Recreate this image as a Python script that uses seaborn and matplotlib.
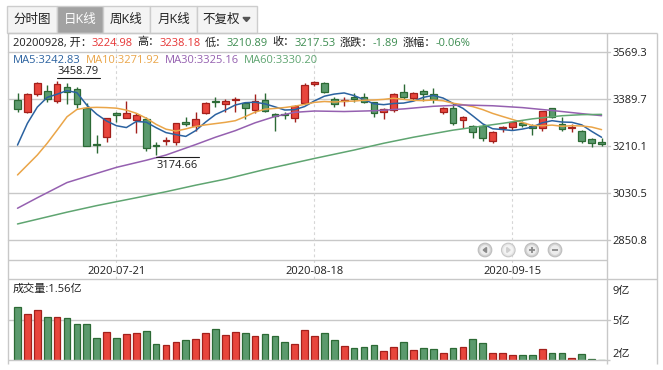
import numpy as np
import pandas as pd
import matplotlib
matplotlib.use("Agg")
import matplotlib.pyplot as plt
import matplotlib.transforms as mtransforms
from matplotlib.patches import Rectangle, Circle, Polygon
from matplotlib.ticker import FixedLocator, NullLocator
import seaborn as sns

# ---------------- data ----------------
day_idx = list(range(60))
opens = [3385.0, 3340.5, 3406.6, 3420.6, 3382.4, 3435.8, 3425.7, 3355.7, 3217.1, 3245.1,
         3334.1, 3317.6, 3308.7, 3311.2, 3213.3, 3228.5, 3223.4, 3302.3, 3285.8, 3336.6,
         3381.2, 3368.4, 3383.7, 3372.2, 3346.8, 3383.7, 3331.6, 3331.6, 3317.6, 3374.8,
         3444.7, 3448.6, 3387.5, 3379.9, 3395.1, 3395.1, 3376.1, 3337.9, 3346.8, 3416.8,
         3393.9, 3420.6, 3406.6, 3340.5, 3353.2, 3307.4, 3285.8, 3285.8, 3228.5, 3278.1,
         3283.2, 3298.5, 3285.8, 3276.9, 3353.2, 3293.4, 3279.4, 3266.7, 3236.2, 3224.98]
highs = [3410.4, 3410.4, 3453.0, 3442.2, 3458.79, 3448.6, 3433.3, 3374.8, 3251.4, 3316.0,
         3340.5, 3382.4, 3334.1, 3318.8, 3226.0, 3245.1, 3298.5, 3318.8, 3340.5, 3378.6,
         3395.1, 3387.5, 3395.1, 3374.8, 3406.6, 3413.0, 3336.6, 3340.5, 3365.9, 3451.1,
         3456.0, 3455.0, 3397.7, 3395.1, 3410.4, 3410.4, 3378.6, 3355.7, 3410.4, 3444.7,
         3416.8, 3425.7, 3429.5, 3359.5, 3372.2, 3323.9, 3289.6, 3293.4, 3266.7, 3285.8,
         3302.3, 3304.8, 3292.1, 3344.0, 3355.7, 3321.4, 3292.1, 3269.2, 3241.3, 3238.18]
lows = [3340.5, 3334.1, 3400.2, 3378.6, 3374.8, 3368.4, 3353.2, 3208.0, 3181.5, 3223.4,
        3302.3, 3315.0, 3260.3, 3191.6, 3174.66, 3212.0, 3213.3, 3285.8, 3266.7, 3331.6,
        3359.5, 3340.5, 3337.9, 3311.2, 3334.1, 3337.9, 3266.7, 3311.2, 3302.3, 3372.2,
        3438.4, 3410.4, 3357.0, 3362.1, 3378.6, 3372.2, 3321.4, 3312.5, 3340.5, 3390.0,
        3385.0, 3382.4, 3374.8, 3330.3, 3289.6, 3276.9, 3238.7, 3229.8, 3222.2, 3264.1,
        3270.5, 3283.2, 3251.4, 3268.0, 3315.0, 3268.0, 3264.1, 3222.2, 3206.9, 3210.89]
closes = [3349.4, 3406.6, 3448.0, 3387.5, 3444.7, 3416.8, 3368.4, 3210.7, 3213.3, 3315.0,
          3326.5, 3334.1, 3326.5, 3200.5, 3209.4, 3232.4, 3295.9, 3292.1, 3311.2, 3372.2,
          3376.1, 3381.2, 3388.8, 3355.7, 3381.2, 3344.3, 3325.2, 3327.7, 3362.1, 3440.9,
          3452.4, 3414.2, 3368.4, 3383.7, 3390.1, 3376.1, 3334.1, 3351.9, 3406.6, 3397.7,
          3413.0, 3406.6, 3388.8, 3355.7, 3295.9, 3318.8, 3261.6, 3238.7, 3261.6, 3280.7,
          3299.8, 3289.6, 3276.9, 3343.0, 3321.4, 3274.3, 3283.2, 3228.5, 3219.42, 3217.53]
volumes = [6.65, 5.70, 6.18, 5.34, 5.34, 5.23, 4.56, 4.56, 3.19, 3.75,
           3.19, 3.56, 3.65, 3.85, 2.68, 2.60, 2.84, 3.02, 3.10, 3.65,
           4.05, 3.47, 3.75, 3.65, 3.37, 3.56, 3.37, 2.84, 2.68, 3.95,
           3.37, 3.65, 3.04, 2.54, 2.36, 2.44, 2.60, 2.16, 2.44, 2.84,
           2.21, 2.36, 2.28, 2.01, 2.36, 2.44, 3.10, 2.79, 2.01, 2.01,
           1.85, 1.85, 1.85, 2.28, 2.01, 2.01, 1.66, 1.92, 1.59, 1.56]  # 亿
ma5 = [3213, 3296, 3358, 3395, 3407.2, 3420.7, 3413.1, 3365.6, 3330.8, 3304.8,
       3286.8, 3279.9, 3303.1, 3300.5, 3279.4, 3260.6, 3252.9, 3246.1, 3268.2, 3300.8,
       3329.5, 3346.6, 3365.9, 3374.8, 3376.6, 3370.2, 3359.0, 3346.8, 3348.1, 3360.0,
       3381.7, 3399.5, 3407.6, 3411.9, 3401.8, 3386.5, 3370.5, 3367.2, 3371.8, 3373.3,
       3380.7, 3395.2, 3402.5, 3392.4, 3372.0, 3353.2, 3324.2, 3294.1, 3275.3, 3272.3,
       3268.5, 3274.1, 3281.7, 3298.0, 3306.1, 3301.0, 3299.8, 3290.1, 3265.4, 3242.83]
ma10 = [3099, 3137, 3175, 3220, 3270, 3321, 3349, 3355.7, 3357, 3356.0,
        3353.8, 3346.5, 3334.4, 3315.7, 3292.1, 3273.7, 3266.4, 3274.6, 3284.4, 3290.1,
        3295.0, 3299.8, 3306.0, 3321.5, 3338.7, 3349.9, 3352.8, 3356.4, 3361.5, 3368.3,
        3376.0, 3379.3, 3377.2, 3380.0, 3380.9, 3384.1, 3385.0, 3387.4, 3391.8, 3387.5,
        3383.6, 3382.8, 3384.9, 3382.1, 3372.6, 3366.9, 3359.7, 3348.3, 3333.8, 3322.1,
        3310.8, 3299.1, 3287.9, 3286.7, 3289.2, 3284.8, 3286.9, 3285.9, 3281.7, 3271.92]
ma30_idx = [0, 2, 5, 8, 10, 13, 15, 18, 20, 22, 24, 26, 28, 30, 33, 36, 39, 42, 45, 48, 51, 54, 57, 59]
ma30 = [2972, 3012, 3070, 3105, 3128, 3155, 3175, 3215, 3243, 3268, 3298, 3322, 3338, 3343,
        3341, 3344, 3351, 3361, 3366, 3363, 3356, 3345, 3333, 3325.16]
ma60_idx = [0, 2, 5, 8, 12, 15, 18, 21, 25, 30, 34, 37, 40, 44, 49, 52, 55, 57, 59]
ma60 = [2912, 2930, 2957, 2982, 3012, 3035, 3060, 3083, 3120, 3162, 3194, 3220, 3243, 3270,
        3296, 3313, 3325, 3329, 3330.20]

price_ticks = [3569.3, 3389.7, 3210.1, 3030.5, 2850.8]
price_labels = ['3569.3', '3389.7', '3210.1', '3030.5', '2850.8']
date_pos = [10, 30, 50]
date_labels = ['2020-07-21', '2020-08-18', '2020-09-15']
vol_ticks = [9, 5, 2]
vol_labels = ['9亿', '5亿', '2亿']
tabs = ['分时图', '日K线', '周K线', '月K线', '不复权']
quote_date = '20200928'
quote_open, quote_high, quote_low, quote_close = 3224.98, 3238.18, 3210.89, 3217.53
quote_change, quote_pct = -1.89, -0.06
ma_names = ['MA5', 'MA10', 'MA30', 'MA60']
ma_last = [3242.83, 3271.92, 3325.16, 3330.20]
vol_latest = 1.56

# ---------------- style ----------------
sns.set_theme(style='white')
plt.rcParams['font.family'] = ['Open Sans', 'Noto Sans CJK SC', 'DejaVu Sans']
plt.rcParams['axes.unicode_minus'] = False

RED_F, RED_E = '#e8453c', '#a3201c'
GRN_F, GRN_E = '#5b9a6d', '#2c6a35'
RED_T, GRN_T, BLK = '#e63535', '#3c8c50', '#1e1e1e'
C5, C10, C30, C60 = '#2b62a0', '#eaa548', '#9560b0', '#5fa571'
GRID = '#c8c8c8'
FRAME = '#c8c8c8'

W, H = 663, 370
fig = plt.figure(figsize=(W / 100, H / 100), dpi=100)
fig.patch.set_facecolor('white')


def box(x0, y0, x1, y1):
    return [x0 / W, 1 - y1 / H, (x1 - x0) / W, (y1 - y0) / H]


L, R = 8.3, 606.7
TOP, PBOT, VTOP, VBOT = 32.7, 260.0, 279.3, 360.3
ax = fig.add_axes(box(L, TOP, R, PBOT))
axv = fig.add_axes(box(L, VTOP, R, VBOT))
XLIM = (-0.93, 59.52)

# ---------------- price panel ----------------
x = np.array(day_idx)
o, h, l, c = map(np.array, (opens, highs, lows, closes))
up = c >= o
fills = np.where(up, RED_F, GRN_F)
edges = np.where(up, RED_E, GRN_E)

for v in price_ticks:
    ax.axhline(v, xmin=0, xmax=1 + 3.5 / (R - L), color=GRID, lw=1, zorder=1, clip_on=False)
for p in date_pos:
    ax.axvline(p, ymin=-(VTOP - PBOT) / (PBOT - TOP), ymax=1, color='#d6d6d6', lw=0.8,
               ls=(0, (2.5, 2.5)), zorder=1, clip_on=False)

ax.vlines(x, l, h, colors=edges, lw=1, zorder=3)
body_lo = np.minimum(o, c)
body_h = np.maximum(np.abs(c - o), 1.2)
ax.bar(x, body_h, bottom=body_lo, width=0.68, color=fills, edgecolor=edges, linewidth=0.9, zorder=4)

for xs, ys, col in [(day_idx, ma5, C5), (day_idx, ma10, C10), (ma30_idx, ma30, C30), (ma60_idx, ma60, C60)]:
    sns.lineplot(x=xs, y=ys, ax=ax, color=col, linewidth=1.1, estimator=None, sort=False,
                 legend=False, zorder=5)

ax.set_xlim(*XLIM)
ax.set_ylim(2774.5, 3641.8)
for s in ax.spines.values():
    s.set_visible(False)
ax.set_xlabel('')
ax.set_ylabel('')
ax.yaxis.tick_right()
ax.yaxis.set_major_locator(FixedLocator(price_ticks))
ax.set_yticklabels(price_labels)
ax.tick_params(axis='y', length=0, pad=4.0, labelsize=8, labelcolor=BLK)
ax.set_xticks(date_pos)
ax.set_xticklabels(date_labels)
ax.tick_params(axis='x', length=0, pad=4, labelsize=8, labelcolor=BLK)

# extreme markers
px_per_unit = (R - L) / (XLIM[1] - XLIM[0])
imax, imin = int(np.argmax(h)), int(np.argmin(l))
tr_up = mtransforms.offset_copy(ax.transData, fig=fig, x=0, y=3, units='dots')
tr_dn = mtransforms.offset_copy(ax.transData, fig=fig, x=0, y=-2, units='dots')
ax.plot([imax, imax + 43 / px_per_unit], [h[imax]] * 2, color=BLK, lw=0.8, transform=tr_up,
        zorder=6, clip_on=False)
ax.text(imax, h[imax], f'{h[imax]:.2f}', fontsize=8, color=BLK, ha='left', va='center',
        transform=mtransforms.offset_copy(ax.transData, fig=fig, x=0, y=9, units='dots'), zorder=6)
ax.plot([imin, imin + 43 / px_per_unit], [l[imin]] * 2, color=BLK, lw=0.8, transform=tr_dn,
        zorder=6, clip_on=False)
ax.text(imin, l[imin], f'{l[imin]:.2f}', fontsize=8, color=BLK, ha='left', va='center',
        transform=mtransforms.offset_copy(ax.transData, fig=fig, x=0, y=-10, units='dots'), zorder=6)

# ---------------- volume panel ----------------
vdf = pd.DataFrame({'i': day_idx, 'vol': volumes, 'dir': np.where(up, 'up', 'down')})
sns.barplot(data=vdf, x='i', y='vol', hue='dir', palette={'up': RED_F, 'down': GRN_F},
            native_scale=True, dodge=False, width=0.68, saturation=1, errorbar=None,
            legend=False, ax=axv, linewidth=0.9, zorder=3)
for ptch in axv.patches:
    fc = ptch.get_facecolor()
    ptch.set_edgecolor(RED_E if fc[0] > 0.7 else GRN_E)
axv.set_yscale('function', functions=(lambda v: np.sqrt(np.clip(v, 0, None)), lambda s: np.square(s)))
axv.set_ylim(1.529, 10.64)
axv.set_xlim(*XLIM)
axv.axhline(5, xmin=0, xmax=1 + 3.5 / (R - L), color=GRID, lw=1, zorder=1, clip_on=False)
for s in axv.spines.values():
    s.set_visible(False)
axv.set_xlabel('')
axv.set_ylabel('')
axv.set_xticks([])
axv.yaxis.tick_right()
axv.yaxis.set_major_locator(FixedLocator(vol_ticks))
axv.yaxis.set_minor_locator(NullLocator())
axv.set_yticklabels(vol_labels)
axv.tick_params(axis='y', length=0, pad=4.0, labelsize=8, labelcolor=BLK)

# ---------------- overlay: frame, tabs, header ----------------
ov = fig.add_axes([0, 0, 1, 1], zorder=20)
ov.set_xlim(0, W)
ov.set_ylim(H, 0)
ov.axis('off')
ov.patch.set_alpha(0)


def seg(x0, y0, x1, y1, col=FRAME, lw=1):
    ov.plot([x0, x1], [y0, y1], color=col, lw=lw, solid_capstyle='butt')


seg(L, TOP, 656.7, TOP)
seg(L, TOP, L, 364)
seg(R, TOP, R, 364)
seg(656.7, TOP, 656.7, 364)
seg(L, PBOT, R, PBOT)
seg(L, VTOP, 656.7, VTOP)
seg(L, VBOT, R + 3.5, VBOT)

tab_edges = [7, 57, 103, 150, 197, 257]
for k, lab in enumerate(tabs):
    x0, x1 = tab_edges[k], tab_edges[k + 1]
    sel = (k == 1)
    ov.add_patch(Rectangle((x0, 6), x1 - x0, TOP - 6, facecolor='#a2a2a2' if sel else '#f4f4f4',
                           edgecolor='#cdcdcd', lw=1))
    tx = (x0 + x1) / 2 if k < 4 else (x0 + x1) / 2 - 6
    ov.text(tx, 19.5, lab, ha='center', va='center', fontsize=9,
            color='white' if sel else '#222222')
ov.add_patch(Polygon([(243, 17.5), (250, 17.5), (246.5, 21.5)], closed=True, color='#555555'))

renderer = fig.canvas.get_renderer()


def chain(x0, y0, pieces, size=8):
    xx = x0
    for s, col in pieces:
        if s is None:
            xx += col
            continue
        t = ov.text(xx, y0, s, color=col, fontsize=size, ha='left', va='center')
        xx = t.get_window_extent(renderer).x1
    return xx


GAP = 4
chain(13.0, 43.0, [
    (f'{quote_date}, 开：', BLK), (f'{quote_open:.2f}', RED_T), (None, GAP),
    ('高：', BLK), (f'{quote_high:.2f}', RED_T), (None, GAP),
    ('低：', BLK), (f'{quote_low:.2f}', GRN_T), (None, GAP),
    ('收：', BLK), (f'{quote_close:.2f}', GRN_T), (None, GAP),
    ('涨跌：', BLK), (f'{quote_change:.2f}', GRN_T), (None, GAP),
    ('涨幅：', BLK), (f'{quote_pct:.2f}%', GRN_T)])

ma_pieces = []
for nm, val, col in zip(ma_names, ma_last, [C5, C10, C30, C60]):
    ma_pieces.append((f'{nm}:{val:.2f}', col))
    ma_pieces.append((None, 5))
chain(13.0, 60.7, ma_pieces[:-1])

ov.text(13.0, 289.0, f'成交量:{vol_latest:.2f}亿', fontsize=8, color=BLK, ha='left', va='center')

# navigation buttons
for k, (bx, sym) in enumerate(zip([485, 508.3, 531.7, 555], ['left', 'right', 'plus', 'minus'])):
    dim = (k == 1)
    ov.add_patch(Circle((bx, 250), 6.8, facecolor='#e6e6e6' if dim else '#d3d3d3',
                        edgecolor='#c6c6c6' if dim else '#bdbdbd', lw=0.8))
    ov.add_patch(Circle((bx, 250), 4.9, facecolor='#f3f3f3' if dim else '#ececec', lw=0))
    sc = '#cfcfcf' if dim else '#8a8a8a'
    if sym == 'left':
        ov.add_patch(Polygon([(bx + 1.5, 247.5), (bx + 1.5, 252.5), (bx - 1.8, 250)], closed=True, color=sc))
    elif sym == 'right':
        ov.add_patch(Polygon([(bx - 1.5, 247.5), (bx - 1.5, 252.5), (bx + 1.8, 250)], closed=True, color=sc))
    elif sym == 'plus':
        seg(bx - 3, 250, bx + 3, 250, col=sc, lw=1.3)
        seg(bx, 247, bx, 253, col=sc, lw=1.3)
    else:
        seg(bx - 3, 250, bx + 3, 250, col=sc, lw=1.3)

fig.savefig('out.png', dpi=100, facecolor='white')
